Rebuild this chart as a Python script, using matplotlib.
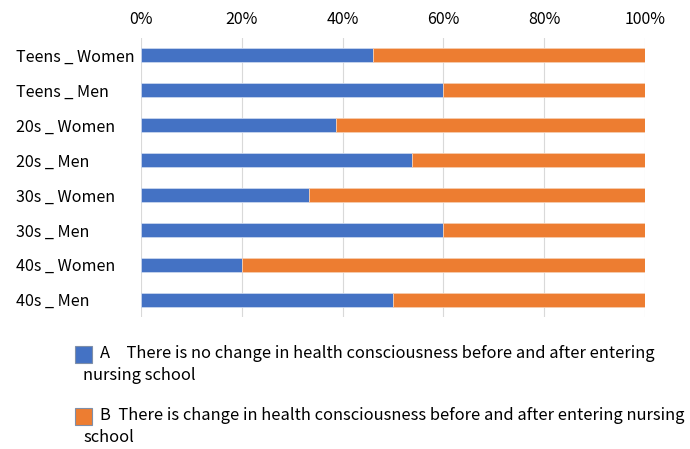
import matplotlib.pyplot as plt
import matplotlib.ticker as mtick
from matplotlib.patches import Rectangle
import numpy as np

plt.rcParams['font.family'] = ['Noto Sans CJK JP', 'DejaVu Sans']

groups = ['Teens _ Women', 'Teens _ Men', '20s _ Women', '20s _ Men',
          '30s _ Women', '30s _ Men', '40s _ Women', '40s _ Men']
no_change = [46.1, 60.0, 38.6, 53.8, 33.4, 60.0, 20.0, 50.0]   # % answering A
change = [100 - v for v in no_change]                          # % answering B
legend_labels = ['A\u3000There is no change in health consciousness before and after entering\nnursing school',
                 'B  There is change in health consciousness before and after entering nursing\nschool']
colors = ['#4472C4', '#ED7D31']

fig = plt.figure(figsize=(6.9, 4.49), dpi=100)
ax = fig.add_axes([141/690, 1 - 317/449, 504/690, 279/449])

y = np.arange(len(groups))
ax.barh(y, no_change, height=0.4, color=colors[0], edgecolor='#C9D6EE', linewidth=0.6, zorder=2)
ax.barh(y, change, left=no_change, height=0.4, color=colors[1], edgecolor='#F6CDB0', linewidth=0.6, zorder=2)

ax.set_xlim(0, 100)
ax.set_ylim(len(groups) - 0.5, -0.5)
ax.xaxis.tick_top()
ax.xaxis.set_major_locator(mtick.MultipleLocator(20))
ax.xaxis.set_major_formatter(mtick.PercentFormatter(decimals=0))
ax.grid(axis='x', color='#D9D9D9', linewidth=0.8, zorder=0)
ax.tick_params(axis='x', length=0, pad=7, labelsize=11.5)
ax.set_yticks(y)
ax.set_yticklabels(groups, fontsize=11.6, ha='left')
ax.tick_params(axis='y', length=0, pad=90)
for s in ax.spines.values():
    s.set_visible(False)

# legend drawn by hand to mimic the wrapped Excel legend
legend_y = [354, 416]
for c, lab, ly in zip(colors, legend_labels, legend_y):
    fig.add_artist(Rectangle((75/690, 1 - (ly + 9)/449), 17/690, 17/449,
                             transform=fig.transFigure, facecolor=c,
                             edgecolor='#7F8FA8', linewidth=0.8))
    first, second = lab.split('\n')
    fig.text(100/690, 1 - ly/449, first, fontsize=11.9, va='center', ha='left')
    fig.text(83/690, 1 - (ly + 22)/449, second, fontsize=11.9, va='center', ha='left')

fig.savefig('out.png', dpi=100)
